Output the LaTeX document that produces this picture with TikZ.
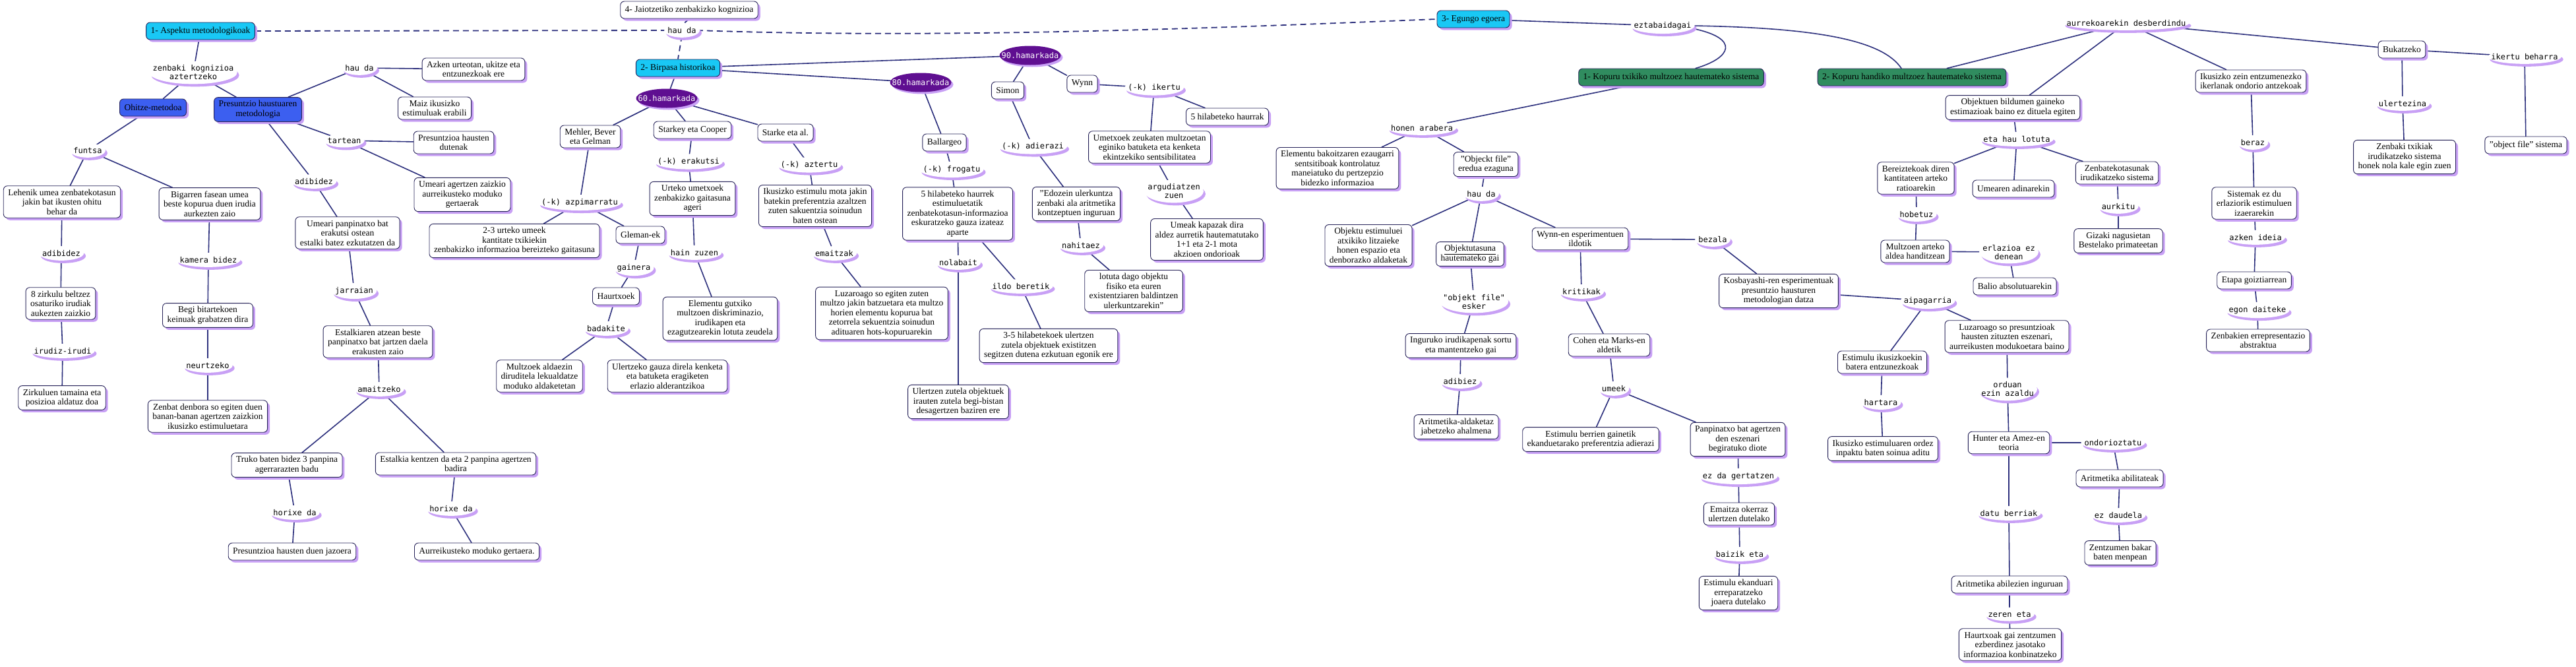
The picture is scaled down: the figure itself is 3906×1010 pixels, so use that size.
\documentclass[tikz,border=0pt]{standalone}
\usepackage{fontspec}
\setmainfont{Liberation Serif}
\newfontfamily\monofam{DejaVu Sans Mono}
\usetikzlibrary{shapes.geometric,shadows,calc}
\definecolor{linec}{RGB}{45,48,125}
\definecolor{bordc}{RGB}{38,34,88}
\definecolor{shadc}{RGB}{200,160,245}
\definecolor{cyanc}{RGB}{25,200,245}
\definecolor{bluec}{RGB}{60,95,240}
\definecolor{greenc}{RGB}{48,140,95}
\definecolor{decc}{RGB}{95,15,145}
\newcommand\myboxfont{\fontsize{13.5}{14.5}\selectfont}
\newcommand\mylblfont{\monofam\fontsize{12}{13}\selectfont}
\pgfdeclarelayer{background}
\pgfdeclarelayer{mid}
\pgfsetlayers{background,mid,main}
\begin{document}
\begin{tikzpicture}[x=1pt,y=-1pt,
 box/.style={draw=bordc, line width=0.9pt, fill=white, rounded corners=6pt, align=center, font=\myboxfont, inner xsep=7pt, inner ysep=5pt, minimum height=26pt, drop shadow={shadow xshift=3.5pt, shadow yshift=-3.5pt, fill=shadc, opacity=1}},
 cbox/.style={box, fill=cyanc},
 bbox/.style={box, fill=bluec},
 gbox/.style={box, fill=greenc},
 lbl/.style={rectangle, inner xsep=1pt, inner ysep=3pt, align=center, font=\mylblfont},
 dec/.style={ellipse, fill=decc, text=white, font=\mylblfont, inner xsep=-20pt, inner ysep=0pt, minimum width=93pt, minimum height=29pt, drop shadow={shadow xshift=3pt, shadow yshift=-3pt, fill=shadc, opacity=1}},
 ln/.style={draw=linec, line width=1.6pt, line cap=round},
 dl/.style={draw=linec, line width=1.8pt, dash pattern=on 9pt off 6pt},
]
\useasboundingbox (0,0) rectangle (3906,1010);

% ---------- left part ----------
\node[cbox] (a1) at (304,47) {1- Aspektu metodologikoak};
\node[lbl] (lzenb) at (293,110) {zenbaki kognizioa\\aztertzeko};
\node[bbox] (ohitze) at (232,163) {Ohitze-metodoa};
\node[bbox] (presun) at (391,166) {Presuntzio haustuaren\\metodologia};
\node[lbl] (lfuntsa) at (133,228) {funtsa};
\node[box] (lehenik) at (94,306) {Lehenik umea zenbatekotasun\\jakin bat ikusten ohitu\\behar da};
\node[box] (bigarren) at (318,309) {Bigarren fasean umea\\beste kopurua duen irudia\\aurkezten zaio};
\node[lbl] (ladib1) at (93,384) {adibidez};
\node[box] (zirk8) at (92,460) {8 zirkulu beltzez\\osaturiko irudiak\\aukezten zaizkio};
\node[lbl] (lirudiz) at (95,532) {irudiz-irudi};
\node[box] (zirkul) at (94,603) {Zirkuluen tamaina eta\\posizioa aldatuz doa};
\node[lbl] (lkamera) at (316,394) {kamera bidez};
\node[box] (begi) at (315,478) {Begi bitartekoen\\keinuak grabatzen dira};
\node[lbl] (lneurtz) at (315,554) {neurtzeko};
\node[box] (zenbat) at (315,631) {Zenbat denbora so egiten duen\\banan-banan agertzen zaizkion\\ikusizko estimuluetara};
\node[lbl] (lhauda1) at (545,103) {hau da};
\node[box] (azken) at (718,105) {Azken urteotan, ukitze eta\\entzunezkoak ere};
\node[box] (maiz) at (659,164) {Maiz ikusizko\\estimuluak erabili};
\node[lbl] (ltartean) at (522,213) {tartean};
\node[box] (presdut) at (688,216) {Presuntzioa hausten\\dutenak};
\node[box] (umeagert) at (701,295) {Umeari agertzen zaizkio\\aurreikusteko moduko\\gertaerak};
\node[lbl] (ladib2) at (476,275) {adibidez};
\node[box] (panpin) at (527,353) {Umeari panpinatxo bat\\erakutsi ostean\\estalki batez ezkutatzen da};
\node[lbl] (ljarr) at (537,441) {jarraian};
\node[box] (estalk) at (573,518) {Estalkiaren atzean beste\\panpinatxo bat jartzen daela\\erakusten zaio};
\node[lbl] (lamaitz) at (575,590) {amaitzeko};
\node[box] (truko) at (435,705) {Truko baten bidez 3 panpina\\agerrarazten badu};
\node[box] (kentzen) at (691,703) {Estalkia kentzen da eta 2 panpina agertzen\\badira};
\node[lbl] (lhor1) at (447,777) {horixe da};
\node[lbl] (lhor2) at (684,771) {horixe da};
\node[box] (jazoera) at (443,836) {Presuntzioa hausten duen jazoera};
\node[box] (aurreik) at (723,836) {Aurreikusteko moduko gertaera.};

% ---------- historical part ----------
\node[box] (jaiotz) at (1045,15) {4- Jaiotzetiko zenbakizko kognizioa};
\node[lbl] (lhauda0) at (1034,46) {hau da};
\node[cbox] (birpasa) at (1028,103) {2- Birpasa historikoa};
\node[cbox] (egungo) at (2234,29) {3- Egungo egoera};
\node[dec] (d60) at (1011,149) {60.hamarkada};
\node[dec] (d80) at (1396,125) {80.hamarkada};
\node[dec] (d90) at (1562,84) {90.hamarkada};
\node[box] (mehler) at (895,207) {Mehler, Bever\\eta Gelman};
\node[box] (starkey) at (1050,197) {Starkey eta Cooper};
\node[box] (starke) at (1191,201) {Starke eta al.};
\node[lbl] (lerak) at (1044,245) {(-k) erakutsi};
\node[lbl] (lazter) at (1227,250) {(-k) aztertu};
\node[box] (urteko) at (1050,301) {Urteko umetxoek\\zenbakizko gaitasuna\\ageri};
\node[box] (ikusmota) at (1236,312) {Ikusizko estimulu mota jakin\\batekin preferentzia azaltzen\\zuten sakuentzia soinudun\\baten ostean};
\node[lbl] (lazpi) at (879,307) {(-k) azpimarratu};
\node[box] (urte23) at (780,365) {2-3 urteko umeek\\kantitate txikiekin\\zenbakizko informazioa bereizteko gaitasuna};
\node[box] (gleman) at (971,356) {Gleman-ek};
\node[lbl] (lhain) at (1053,383) {hain zuzen};
\node[lbl] (lgain) at (961,406) {gainera};
\node[box] (haurtx) at (934,449) {Haurtxoek};
\node[lbl] (lbadak) at (919,498) {badakite};
\node[box] (elemgutx) at (1092,483) {Elementu gutxiko\\multzoen diskriminazio,\\irudikapen eta\\ezagutzearekin lotuta zeudela};
\node[lbl] (lemaitz) at (1265,384) {emaitzak};
\node[box] (luzar1) at (1337,475) {Luzaroago so egiten zuten\\multzo jakin batzuetara eta multzo\\horien elementu kopurua bat\\zetorrela sekuentzia soinudun\\adituaren hots-kopuruarekin};
\node[box] (multzoek) at (818,570) {Multzoek aldaezin\\diruditela lekualdatze\\moduko aldaketetan};
\node[box] (ulertzeko) at (1012,570) {Ulertzeko gauza direla kenketa\\eta batuketa eragiketen\\erlazio alderantzikoa};
\node[box] (ballar) at (1432,216) {Ballargeo};
\node[lbl] (lfrog) at (1443,257) {(-k) frogatu};
\node[box] (hil5) at (1452,324) {5 hilabeteko haurrek\\estimuluetatik\\zenbatekotasun-informazioa\\eskuratzeko gauza izateaz\\aparte};
\node[lbl] (lnolab) at (1453,398) {nolabait};
\node[lbl] (lildo) at (1548,434) {ildo beretik};
\node[box] (ulertzen) at (1453,609) {Ulertzen zutela objektuek\\irauten zutela begi-bistan\\desagertzen baziren ere};
\node[box] (hil35) at (1590,524) {3-5 hilabetekoek ulertzen\\zutela objektuek existitzen\\segitzen dutena ezkutuan egonik ere};
\node[box] (simon) at (1528,137) {Simon};
\node[box] (wynn) at (1641,127) {Wynn};
\node[lbl] (ladier) at (1566,222) {(-k) adierazi};
\node[box] (edozein) at (1632,309) {"Edozein ulerkuntza\\zenbaki ala aritmetika\\kontzeptuen inguruan};
\node[lbl] (lnahit) at (1639,372) {nahitaez};
\node[box] (lotuta) at (1719,441) {lotuta dago objektu\\fisiko eta euren\\existentziaren baldintzen\\ulerkuntzarekin"};
\node[lbl] (liker) at (1750,133) {(-k) ikertu};
\node[box] (hil5b) at (1861,177) {5 hilabeteko haurrak};
\node[box] (umetx) at (1743,223) {Umetxoek zeukaten multzoetan\\eginiko batuketa eta kenketa\\ekintzekiko sentsibilitatea};
\node[lbl] (largud) at (1780,290) {argudiatzen\\zuen};
\node[box] (kapaz) at (1830,363) {Umeak kapazak dira\\aldez aurretik hautematutako\\1+1 eta 2-1 mota\\akzioen ondorioak};

% ---------- current state ----------
\node[lbl] (leztab) at (2521,39) {eztabaidagai};
\node[gbox] (kop1) at (2534,117) {1- Kopuru txikiko multzoez hautemateko sistema};
\node[gbox] (kop2) at (2899,117) {2- Kopuru handiko multzoez hautemateko sistema};
\node[lbl] (lhonen) at (2156,194) {honen arabera};
\node[box] (elemb) at (2028,255) {Elementu bakoitzaren ezaugarri\\sentsitiboak kontrolatuz\\maneiatuko du pertzepzio\\bidezko informazioa};
\node[box] (objfile) at (2253,249) {"Objeckt file"\\eredua ezaguna};
\node[lbl] (lhauda2) at (2246,294) {hau da};
\node[box] (objest) at (2075,372) {Objektu estimuluei\\atxikiko litzaieke\\honen espazio eta\\denborazko aldaketak};
\node[box] (objtas) at (2229,385) {\underline{Objektutasuna}\\hautemateko gai};
\node[box] (wynnen) at (2396,362) {Wynn-en esperimentuen\\ildotik};
\node[lbl] (lbezala) at (2597,363) {bezala};
\node[lbl] (lobjesk) at (2235,457) {"objekt file"\\esker};
\node[lbl] (lkritik) at (2398,442) {kritikak};
\node[box] (ingur) at (2215,524) {Inguruko irudikapenak sortu\\eta mantentzeko gai};
\node[box] (cohen) at (2440,523) {Cohen eta Marks-en\\aldetik};
\node[lbl] (ladibiez) at (2214,578) {adibiez};
\node[box] (aritmald) at (2208,647) {Aritmetika-aldaketaz\\jabetzeko ahalmena};
\node[lbl] (lumeek) at (2447,589) {umeek};
\node[box] (estberr) at (2412,666) {Estimulu berrien gainetik\\ekanduetarako preferentzia adierazi};
\node[box] (panpbeg) at (2635,666) {Panpinatxo bat agertzen\\den eszenari\\begiratuko diote};
\node[lbl] (lezda) at (2636,722) {ez da gertatzen};
\node[box] (emaitzok) at (2637,779) {Emaitza okerraz\\ulertzen dutelako};
\node[lbl] (lbaizik) at (2638,840) {baizik eta};
\node[box] (estekand) at (2636,899) {Estimulu ekanduari\\erreparatzeko\\joaera dutelako};
\node[box] (kosbay) at (2697,441) {Kosbayashi-ren esperimentuak\\presuntzio hausturen\\metodologian datza};
\node[lbl] (laipag) at (2923,456) {aipagarria};
\node[box] (estikus) at (2854,549) {Estimulu ikusizkoekin\\batera entzunezkoak};
\node[lbl] (lhartara) at (2852,610) {hartara};
\node[box] (ikusordez) at (2855,680) {Ikusizko estimuluaren ordez\\inpaktu baten soinua aditu};
\node[box] (luzar2) at (3043,510) {Luzaroago so presuntzioak\\hausten zituzten eszenari,\\aurreikusten modukoetara baino};
\node[lbl] (lorduan) at (3044,590) {orduan\\ezin azaldu};
\node[box] (hunter) at (3046,671) {Hunter eta Amez-en\\teoria};
\node[lbl] (londor) at (3204,671) {ondorioztatu};
\node[box] (aritabil) at (3214,725) {Aritmetika abilitateak};
\node[lbl] (lezdaud) at (3212,781) {ez daudela};
\node[box] (zentzb) at (3215,838) {Zentzumen bakar\\baten menpean};
\node[lbl] (ldatu) at (3046,778) {datu berriak};
\node[box] (aritinguru) at (3047,886) {Aritmetika abilezien inguruan};
\node[lbl] (lzeren) at (3047,931) {zeren eta};
\node[box] (haurtxoak) at (3048,977) {Haurtxoak gai zentzumen\\ezberdinez jasotako\\informazioa konbinatzeko};
\node[lbl] (laurrek) at (3224,35) {aurrekoarekin desberdindu};
\node[box] (objbild) at (3052,163) {Objektuen bildumen gaineko\\estimazioak baino ez dituela egiten};
\node[lbl] (letahau) at (3058,211) {eta hau lotuta};
\node[box] (bereizt) at (2905,270) {Bereiztekoak diren\\kantitateen arteko\\ratioarekin};
\node[box] (umearen) at (3053,286) {Umearen adinarekin};
\node[box] (zenbatek) at (3210,262) {Zenbatekotasunak\\irudikatzeko sistema};
\node[lbl] (laurkitu) at (3212,313) {aurkitu};
\node[box] (gizaki) at (3212,365) {Gizaki nagusietan\\Bestelako primateetan};
\node[lbl] (lhobetuz) at (2906,325) {hobetuz};
\node[box] (multzoen) at (2904,381) {Multzoen arteko\\aldea handitzean};
\node[lbl] (lerlaz) at (3046,382) {erlazioa ez\\denean};
\node[box] (balio) at (3055,434) {Balio absolutuarekin};
\node[box] (ikuszein) at (3413,123) {Ikusizko zein entzumenezko\\ikerlanak ondorio antzekoak};
\node[lbl] (lberaz) at (3416,216) {beraz};
\node[box] (sistemak) at (3418,308) {Sistemak ez du\\erlaziorik estimuluen\\izaerarekin};
\node[lbl] (lazkenid) at (3420,360) {azken ideia};
\node[box] (etapa) at (3418,425) {Etapa goiztiarrean};
\node[lbl] (legon) at (3423,470) {egon daiteke};
\node[box] (zenbabs) at (3424,516) {Zenbakien errepresentazio\\abstraktua};
\node[box] (bukatz) at (3642,75) {Bukatzeko};
\node[lbl] (likerbeh) at (3828,86) {ikertu beharra};
\node[box] (objsist) at (3830,220) {"object file" sistema};
\node[lbl] (lulertez) at (3643,157) {ulertezina};
\node[box] (zenbtxik) at (3646,238) {Zenbaki txikiak\\irudikatzeko sistema\\honek nola kale egin zuen};

% ---------- label ellipses ----------
\begin{pgfonlayer}{mid}
\foreach \nm in {lzenb,lfuntsa,ladib1,lirudiz,lkamera,lneurtz,lhauda1,ltartean,ladib2,ljarr,lamaitz,lhor1,lhor2,lhauda0,lerak,lazter,lazpi,lhain,lgain,lbadak,lemaitz,lfrog,lnolab,lildo,ladier,lnahit,liker,largud,leztab,lhonen,lhauda2,lbezala,lobjesk,lkritik,ladibiez,lumeek,lezda,lbaizik,laipag,lhartara,lorduan,londor,lezdaud,ldatu,lzeren,laurrek,letahau,laurkitu,lhobetuz,lerlaz,lberaz,lazkenid,legon,likerbeh,lulertez}{
  \fill[shadc] let \p1=(\nm.south west), \p2=(\nm.north east) in ($(\nm.center)+(3pt,-4pt)$) ellipse [x radius={0.5*(\x2-\x1)+4pt}, y radius={0.5*(\y2-\y1)+3pt}];
  \fill[white] let \p1=(\nm.south west), \p2=(\nm.north east) in (\nm.center) ellipse [x radius={0.5*(\x2-\x1)+4pt}, y radius={0.5*(\y2-\y1)+3pt}];
}
\end{pgfonlayer}

% ---------- connectors ----------
\begin{pgfonlayer}{background}
\fill[white] (0,0) rectangle (3906,1010);
\draw[dl] (a1.east) -- (lhauda0.west);
\draw[dl] (jaiotz.south) -- (lhauda0.north);
\draw[dl] (lhauda0.south) -- (birpasa.north);
\draw[dl] (lhauda0.east) .. controls (1450,60) and (1900,40) .. (egungo.west);
\foreach \a/\b in {a1/lzenb, lzenb/ohitze, lzenb/presun,
 ohitze/lfuntsa, lfuntsa/lehenik, lfuntsa/bigarren,
 lehenik/ladib1, ladib1/zirk8, zirk8/lirudiz, lirudiz/zirkul,
 bigarren/lkamera, lkamera/begi, begi/lneurtz, lneurtz/zenbat,
 presun/lhauda1, lhauda1/azken, lhauda1/maiz,
 presun/ltartean, ltartean/presdut, ltartean/umeagert,
 presun/ladib2, ladib2/panpin, panpin/ljarr, ljarr/estalk, estalk/lamaitz,
 lamaitz/truko, lamaitz/kentzen, truko/lhor1, lhor1/jazoera, kentzen/lhor2, lhor2/aurreik,
 birpasa/d60, birpasa/d80, birpasa/d90,
 d60/mehler, d60/starkey, d60/starke,
 mehler/lazpi, lazpi/urte23, lazpi/gleman, gleman/lgain, lgain/haurtx, haurtx/lbadak,
 lbadak/multzoek, lbadak/ulertzeko,
 starkey/lerak, lerak/urteko, urteko/lhain, lhain/elemgutx,
 starke/lazter, lazter/ikusmota, ikusmota/lemaitz, lemaitz/luzar1,
 d80/ballar, ballar/lfrog, lfrog/hil5, hil5/lnolab, lnolab/ulertzen, hil5/lildo, lildo/hil35,
 d90/simon, d90/wynn, simon/ladier, ladier/edozein, edozein/lnahit, lnahit/lotuta,
 wynn/liker, liker/hil5b, liker/umetx, umetx/largud, largud/kapaz,
 egungo/leztab,
 kop1/lhonen, lhonen/elemb, lhonen/objfile, objfile/lhauda2,
 lhauda2/objest, lhauda2/objtas, lhauda2/wynnen,
 objtas/lobjesk, lobjesk/ingur, ingur/ladibiez, ladibiez/aritmald,
 wynnen/lkritik, lkritik/cohen, cohen/lumeek, lumeek/estberr, lumeek/panpbeg,
 panpbeg/lezda, lezda/emaitzok, emaitzok/lbaizik, lbaizik/estekand,
 wynnen/lbezala, lbezala/kosbay, kosbay/laipag, laipag/estikus, laipag/luzar2,
 estikus/lhartara, lhartara/ikusordez, luzar2/lorduan, lorduan/hunter,
 hunter/londor, londor/aritabil, aritabil/lezdaud, lezdaud/zentzb,
 hunter/ldatu, ldatu/aritinguru, aritinguru/lzeren, lzeren/haurtxoak,
 kop2/laurrek, laurrek/objbild, laurrek/ikuszein, laurrek/bukatz,
 objbild/letahau, letahau/bereizt, letahau/umearen, letahau/zenbatek,
 bereizt/lhobetuz, lhobetuz/multzoen, multzoen/lerlaz, lerlaz/balio,
 zenbatek/laurkitu, laurkitu/gizaki,
 ikuszein/lberaz, lberaz/sistemak, sistemak/lazkenid, lazkenid/etapa, etapa/legon, legon/zenbabs,
 bukatz/likerbeh, likerbeh/objsist, bukatz/lulertez, lulertez/zenbtxik}
 {\draw[ln] (\a) -- (\b);}
\draw[ln] ([yshift=-4pt]leztab.east) .. controls (2640,58) and (2625,88) .. ([xshift=37pt]kop1.north);
\draw[ln] (leztab.east) .. controls (2760,42) and (2855,62) .. ([xshift=-16pt]kop2.north);
\end{pgfonlayer}
\end{tikzpicture}
\end{document}
